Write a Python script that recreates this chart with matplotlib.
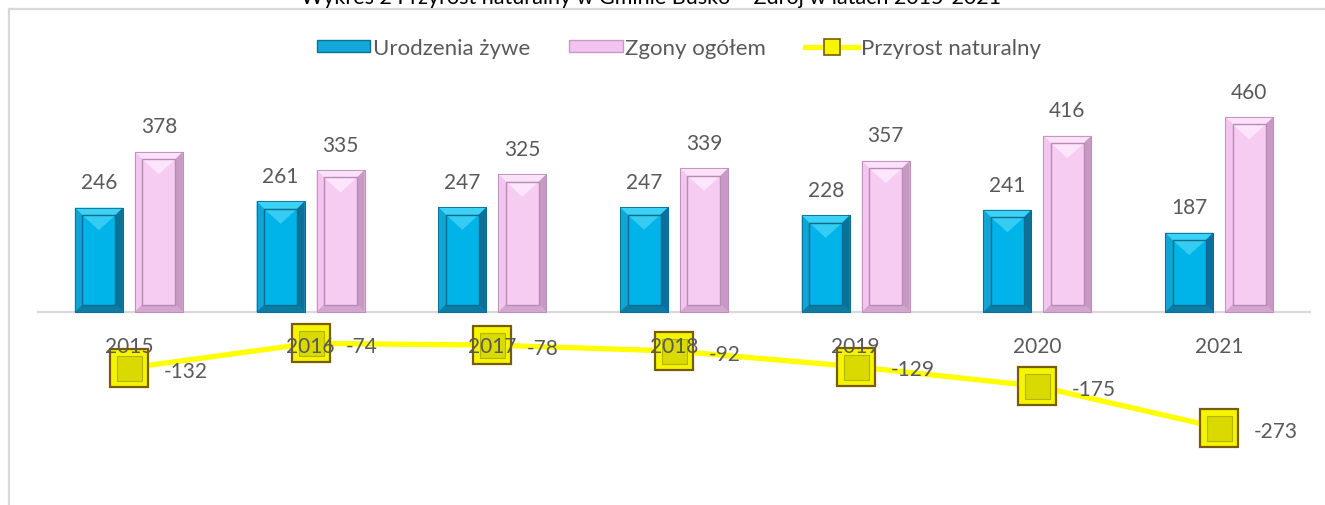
import matplotlib
matplotlib.use("Agg")
import matplotlib.pyplot as plt
from matplotlib.patches import Polygon, Rectangle
from matplotlib.lines import Line2D
import numpy as np

plt.rcParams['font.family'] = ['Lato', 'DejaVu Sans']

# ---- data ----
years = ["2015", "2016", "2017", "2018", "2019", "2020", "2021"]
births = [246, 261, 247, 247, 228, 241, 187]
deaths = [378, 335, 325, 339, 357, 416, 460]
natural_increase = [-132, -74, -78, -92, -129, -175, -273]

series_names = ["Urodzenia żywe", "Zgony ogółem", "Przyrost naturalny"]
title = "Wykres 2 Przyrost naturalny w Gminie Busko – Zdrój w latach 2015-2021"

W, H = 1325, 506
fig = plt.figure(figsize=(W / 100, H / 100), dpi=100)

# axes placement in pixels
ax_left, ax_right = 38, 1310
ymin, ymax = -400, 500
scale = 0.424  # px per unit
zero_from_bottom = H - 313
ax_bottom = zero_from_bottom + ymin * scale
ax_height = (ymax - ymin) * scale
ax = fig.add_axes([ax_left / W, ax_bottom / H, (ax_right - ax_left) / W, ax_height / H])
ax.set_xlim(-0.5, len(years) - 0.5)
ax.set_ylim(ymin, ymax)

text_col = "#595959"
x = np.arange(len(years))
bw = 0.264
off = 0.165

b1 = ax.bar(x - off, births, bw, color="#14A9D8", edgecolor="#0E86B3", linewidth=0.8, zorder=2)
b2 = ax.bar(x + off, deaths, bw, color="#F3C4EF", edgecolor="#E2AEDD", linewidth=0.8, zorder=2)

fig.canvas.draw()
inv = ax.transData.inverted()


def bevel(bars, cols):
    top_c, left_c, right_c, bot_c, face_c, v_c, line_c = cols
    for p in bars:
        x0, y0 = p.get_x(), p.get_y()
        x1, y1 = x0 + p.get_width(), y0 + p.get_height()
        (X0, Y0), (X1, Y1) = ax.transData.transform([(x0, y0), (x1, y1)])
        d = 7.5
        pts_disp = {
            'o00': (X0, Y0), 'o10': (X1, Y0), 'o11': (X1, Y1), 'o01': (X0, Y1),
            'i00': (X0 + d, Y0 + d), 'i10': (X1 - d, Y0 + d),
            'i11': (X1 - d, Y1 - d), 'i01': (X0 + d, Y1 - d),
            'vc': ((X0 + X1) / 2, Y1 - d - 15),
        }
        P = {k: tuple(inv.transform(v)) for k, v in pts_disp.items()}
        polys = [
            ([P['o01'], P['o11'], P['i11'], P['i01']], top_c),
            ([P['o00'], P['o01'], P['i01'], P['i00']], left_c),
            ([P['o10'], P['o11'], P['i11'], P['i10']], right_c),
            ([P['o00'], P['o10'], P['i10'], P['i00']], bot_c),
            ([P['i00'], P['i10'], P['i11'], P['i01']], face_c),
            ([P['i01'], P['i11'], P['vc']], v_c),
        ]
        for verts, c in polys:
            ax.add_patch(Polygon(verts, closed=True, facecolor=c, edgecolor='none', zorder=2.2))
        ax.add_patch(Polygon([P['i00'], P['i10'], P['i11'], P['i01']], closed=True,
                             facecolor='none', edgecolor=line_c, linewidth=1.0, zorder=2.3))
        ax.add_patch(Polygon([P['o00'], P['o10'], P['o11'], P['o01']], closed=True,
                             facecolor='none', edgecolor=line_c, linewidth=0.6, zorder=2.3))


bevel(b1, ("#3CD2F5", "#0FA6D6", "#0B7198", "#0D7BA3", "#00B3E8", "#34CCF2", "#0B6C90"))
bevel(b2, ("#FCE2F9", "#F3C6EF", "#C79AC3", "#D2A6CE", "#F7CCF3", "#FDE6FB", "#B98AB5"))

# bar labels
for rects, vals in ((b1, births), (b2, deaths)):
    for r, v in zip(rects, vals):
        ax.annotate(f"{v}", (r.get_x() + r.get_width() / 2, v), xytext=(0, 11),
                    textcoords="offset points", ha="center", va="bottom",
                    fontsize=15, color=text_col, zorder=6)

# line
ax.plot(x, natural_increase, color="#FFFF00", linewidth=3.8, zorder=3, solid_capstyle="round")
ax.plot(x, natural_increase, linestyle="none", marker="s", markersize=28,
        markerfacecolor="#F5F500", markeredgecolor="#7A5C00", markeredgewidth=1.6, zorder=4)
ax.plot(x, natural_increase, linestyle="none", marker="s", markersize=18,
        markerfacecolor="#DADA00", markeredgecolor="#B5B500", markeredgewidth=0.8, zorder=4.1)
for xi, v in zip(x, natural_increase):
    ax.annotate(f"{v}", (xi, v), xytext=(25, -2), textcoords="offset points",
                ha="left", va="center", fontsize=15, color=text_col, zorder=6)

# axis
for s in ("top", "right", "left"):
    ax.spines[s].set_visible(False)
ax.spines["bottom"].set_position(("data", 0))
ax.spines["bottom"].set_color("#D9D9D9")
ax.spines["bottom"].set_linewidth(1.6)
ax.spines["bottom"].set_zorder(1)
ax.set_yticks([])
ax.set_xticks(x)
ax.set_xticklabels(years, fontsize=15, color=text_col)
ax.tick_params(axis="x", length=0, pad=17)
ax.xaxis.set_zorder(7)
ax.patch.set_visible(False)

# legend
handles = [
    Rectangle((0, 0), 1, 1, facecolor="#14A9D8", edgecolor="#0B7198", linewidth=1),
    Rectangle((0, 0), 1, 1, facecolor="#F3C4EF", edgecolor="#C79AC3", linewidth=1),
    Line2D([], [], color="#FFFF00", linewidth=3.8, marker="s", markersize=12,
           markerfacecolor="#F5F500", markeredgecolor="#7A5C00", markeredgewidth=1.2),
]
leg = fig.legend(handles, series_names, loc="center", bbox_to_anchor=(679 / W, 1 - 49 / H),
                 ncol=3, frameon=False, fontsize=16, handlelength=2.4, handleheight=0.5,
                 handletextpad=0.12, columnspacing=1.75, labelcolor=text_col)

# chart border and cut-off title (as in the reference, only its lower edge is visible)
fig.add_artist(Line2D([9 / W, 1], [1 - 10 / H, 1 - 10 / H], color="#D9D9D9", linewidth=1.6,
                      transform=fig.transFigure))
fig.add_artist(Line2D([9 / W, 9 / W], [0, 1 - 10 / H], color="#D9D9D9", linewidth=1.6,
                      transform=fig.transFigure))
fig.text(651 / W, 1 - 4 / H, title, ha="center", va="baseline", fontsize=15.5, color="black")

fig.savefig("out.png", dpi=100)
